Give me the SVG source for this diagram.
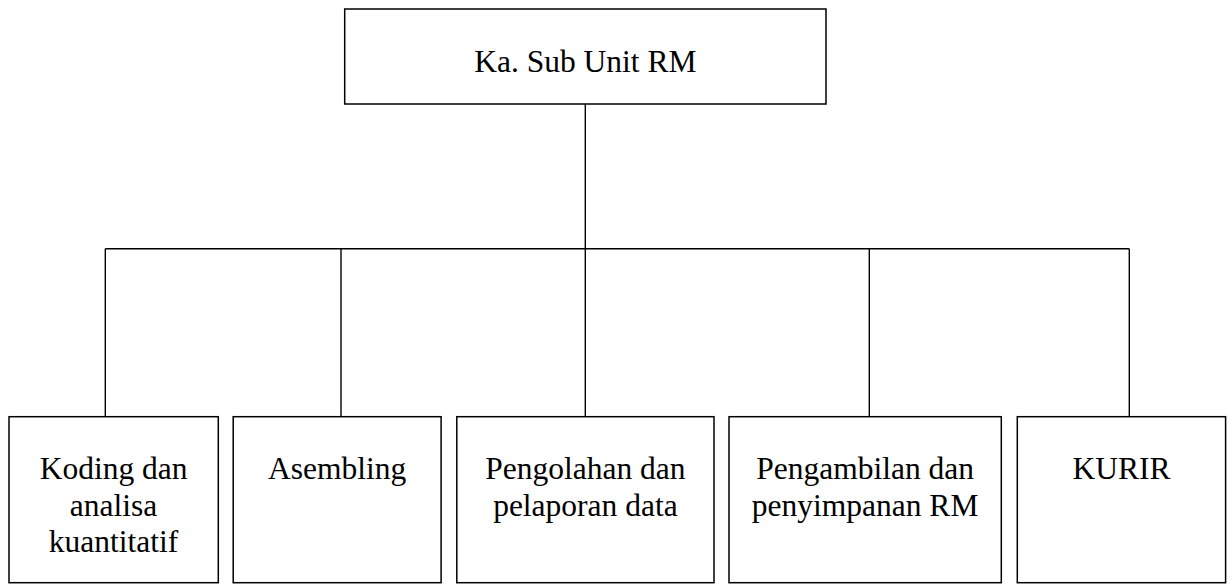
<svg xmlns="http://www.w3.org/2000/svg" width="1228" height="584" viewBox="0 0 1228 584">
<style>
.box{fill:#fff;stroke:#000;stroke-width:1.5}
.conn{fill:none;stroke:#000;stroke-width:1.4}
.lbl{font-family:"Liberation Serif","Times New Roman",serif;font-size:31.5px;fill:#000;text-anchor:middle}
</style>
<rect width="1228" height="584" fill="#fff"/>
<g id="connectors">
<path class="conn" d="M585.3 104 V248.7 M105.3 248.7 H1129.3 M105.3 248.7 V416.7 M341 248.7 V416.7 M585.3 248.7 V416.7 M869.3 248.7 V416.7 M1129.3 248.7 V416.7"/>
</g>
<g id="node-ka-sub-unit">
<rect class="box" x="344.7" y="9" width="481.3" height="95"/>
<text class="lbl" x="585.3" y="71.7">Ka. Sub Unit RM</text>
</g>
<g id="node-koding">
<rect class="box" x="9" y="416.7" width="209.3" height="166"/>
<text class="lbl" x="113.6" y="478.5">Koding dan</text>
<text class="lbl" x="113.6" y="515.5">analisa</text>
<text class="lbl" x="113.6" y="552">kuantitatif</text>
</g>
<g id="node-asembling">
<rect class="box" x="233.2" y="416.7" width="207.9" height="166"/>
<text class="lbl" x="337.1" y="478.5">Asembling</text>
</g>
<g id="node-pengolahan">
<rect class="box" x="456.8" y="416.7" width="257.2" height="166"/>
<text class="lbl" x="585.4" y="478.5">Pengolahan dan</text>
<text class="lbl" x="585.4" y="515.5">pelaporan data</text>
</g>
<g id="node-pengambilan">
<rect class="box" x="729" y="416.7" width="272.3" height="166"/>
<text class="lbl" x="865.1" y="478.5">Pengambilan dan</text>
<text class="lbl" x="865.1" y="515.5">penyimpanan RM</text>
</g>
<g id="node-kurir">
<rect class="box" x="1017.3" y="416.7" width="208.3" height="166"/>
<text class="lbl" x="1121.4" y="478.5">KURIR</text>
</g>
</svg>
